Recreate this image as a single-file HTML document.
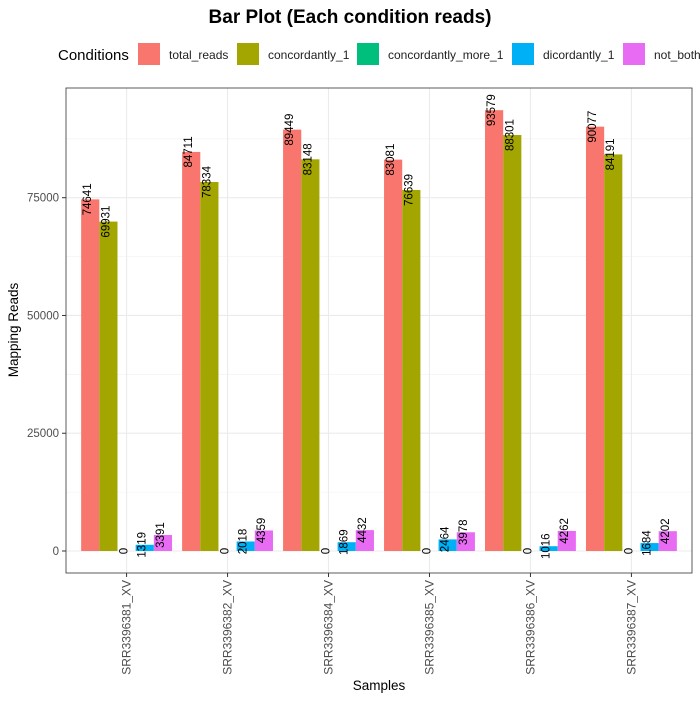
<!DOCTYPE html>
<html><head><meta charset="utf-8"><style>
body{margin:0;background:#fff;font-family:"Liberation Sans",sans-serif}
svg text{font-family:"Liberation Sans",sans-serif}
</style></head><body>
<svg id="c" width="700" height="700" xmlns="http://www.w3.org/2000/svg">
<rect width="700" height="700" fill="#fff"/>
<text x="350" y="23" text-anchor="middle" font-size="19" font-weight="bold">Bar Plot (Each condition reads)</text>
<g id="legend"></g>
<g id="plot"></g>
</svg>
<script>
const categories=["SRR3396381_XV","SRR3396382_XV","SRR3396384_XV","SRR3396385_XV","SRR3396386_XV","SRR3396387_XV"];
const seriesNames=["total_reads","concordantly_1","concordantly_more_1","dicordantly_1","not_both"];
const totalReads=[74641,84711,89449,83081,93579,90077];
const concordantly1=[69931,78334,83148,76639,88301,84191];
const concordantlyMore1=[0,0,0,0,0,0];
const dicordantly1=[1319,2018,1869,2464,1016,1684];
const notBoth=[3391,4359,4432,3978,4262,4202];
const yTicks=[0,25000,50000,75000];
const colors=["#F8766D","#A3A500","#00BF7D","#00B0F6","#E76BF3"];
const series=[totalReads,concordantly1,concordantlyMore1,dicordantly1,notBoth];

const NS="http://www.w3.org/2000/svg";
const L=66,R=692,T=88,B=573;
const y0=551,yPerUnit=(551-197.7)/75000;
const y=v=>y0-v*yPerUnit;
const step=(R-L)/(categories.length-1+1.2);
const x=i=>L+step*(i+0.6);
const bw=step*0.9/series.length;
function el(tag,attrs,parent){const e=document.createElementNS(NS,tag);for(const k in attrs)e.setAttribute(k,attrs[k]);parent.appendChild(e);return e;}
const plot=document.getElementById('plot');
const panel=el('rect',{x:L,y:T,width:R-L,height:B-T,fill:"#fff"},plot);


for(let i=0;i<yTicks.length;i++){const v=yTicks[i]+12500;el('line',{x1:L,x2:R,y1:y(v),y2:y(v),stroke:"#f0f0f0","stroke-width":0.6},plot);}
for(const v of yTicks){const g=el('line',{x1:L,x2:R,y1:y(v),y2:y(v),stroke:"#ebebeb","stroke-width":1.1},plot);

}
categories.forEach((c,i)=>{el('line',{x1:x(i),x2:x(i),y1:T,y2:B,stroke:"#ebebeb","stroke-width":1.1},plot);});
categories.forEach((c,i)=>{
 series.forEach((s,j)=>{
  const v=s[i];const bx=x(i)+(j-2.5)*bw;
  const r=el('rect',{x:bx,y:y(v),width:bw,height:y0-y(v),fill:colors[j]},plot);
  
  
  const tx=bx+bw/2-2,ty=y(v);
  const t=el('text',{x:tx,y:ty,transform:`rotate(-90 ${tx} ${ty})`,"text-anchor":"middle","dominant-baseline":"central","font-size":"11.5",fill:"#000"},plot);
  t.textContent=v;
  
  
 });
 el('line',{x1:x(i),x2:x(i),y1:B,y2:B+4,stroke:"#333"},plot);
 const lx=x(i)+4,ly=B+7;
 const lt=el('text',{x:lx,y:ly,transform:`rotate(-90 ${lx} ${ly})`,"text-anchor":"end","font-size":"12",fill:"#4d4d4d"},plot);
 lt.textContent=c;
 
 
});
el('rect',{x:L,y:T,width:R-L,height:B-T,fill:"none",stroke:"#333","stroke-width":0.8},plot);
for(const v of yTicks){el('line',{x1:L-4,x2:L,y1:y(v),y2:y(v),stroke:"#333"},plot);
 const t=el('text',{x:L-7,y:y(v)+4,"text-anchor":"end","font-size":"11.5",fill:"#4d4d4d"},plot);t.textContent=v;
 
 }
const yt=el('text',{x:18,y:330,transform:"rotate(-90 18 330)","text-anchor":"middle","font-size":"13.5"},plot);yt.textContent="Mapping Reads";


const xt=el('text',{x:379,y:690,"text-anchor":"middle","font-size":"13.5"},plot);xt.textContent="Samples";


const lg=document.getElementById('legend');
const ltl=el('text',{x:58,y:60,"font-size":"15"},lg);ltl.textContent="Conditions";


const keyX=[138,237,357,512,623];
seriesNames.forEach((n,j)=>{
 const g=el('g',{},lg);
 
 
 el('rect',{x:keyX[j],y:43,width:22,height:22,fill:colors[j]},g);
 const t=el('text',{x:keyX[j]+31,y:59,"font-size":"12",fill:"#222"},g);t.textContent=n;
});
</script>
</body></html>
